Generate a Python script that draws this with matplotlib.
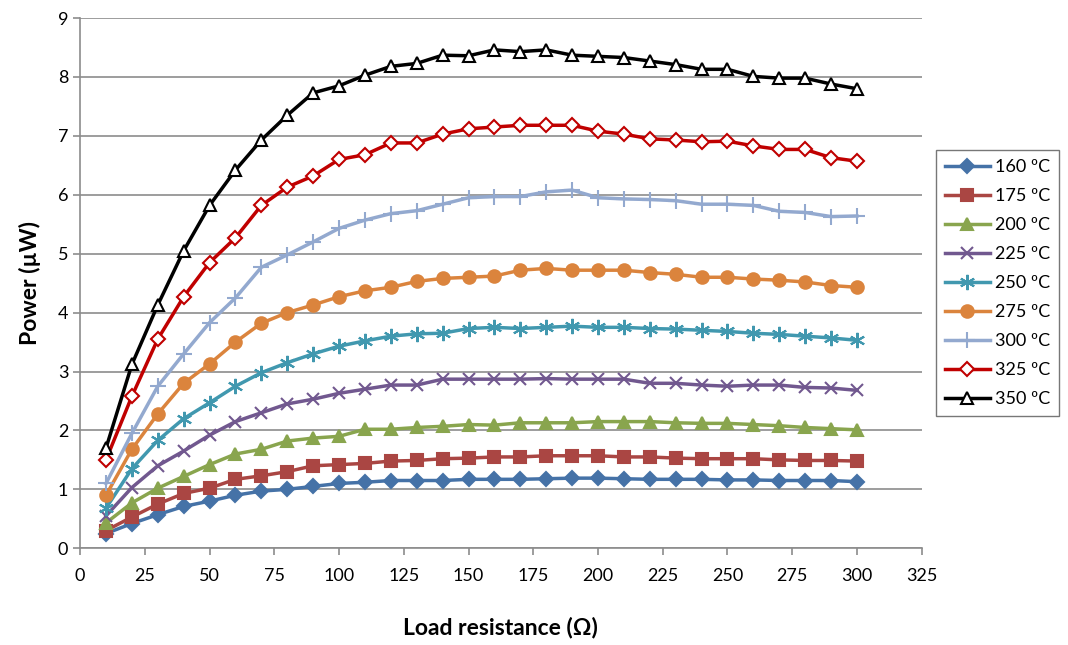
import numpy as np
import matplotlib.pyplot as plt

plt.rcParams['font.family'] = ['Lato', 'DejaVu Sans']

resistance = np.arange(10, 301, 10)
labels = ['160 ºC', '175 ºC', '200 ºC', '225 ºC', '250 ºC', '275 ºC', '300 ºC', '325 ºC', '350 ºC']

p160 = [0.25, 0.42, 0.57, 0.71, 0.80, 0.90, 0.97, 1.00, 1.05, 1.10, 1.12, 1.15, 1.15, 1.15, 1.17,
        1.17, 1.17, 1.18, 1.19, 1.19, 1.18, 1.17, 1.17, 1.17, 1.16, 1.16, 1.15, 1.15, 1.15, 1.13]
p175 = [0.30, 0.53, 0.75, 0.93, 1.02, 1.17, 1.23, 1.30, 1.40, 1.42, 1.44, 1.48, 1.49, 1.52, 1.53,
        1.55, 1.55, 1.57, 1.57, 1.57, 1.55, 1.55, 1.53, 1.52, 1.52, 1.52, 1.50, 1.49, 1.49, 1.48]
p200 = [0.43, 0.77, 1.02, 1.22, 1.42, 1.60, 1.68, 1.82, 1.87, 1.90, 2.02, 2.02, 2.05, 2.07, 2.10,
        2.09, 2.13, 2.13, 2.13, 2.15, 2.15, 2.15, 2.13, 2.12, 2.12, 2.10, 2.08, 2.05, 2.03, 2.01]
p225 = [0.55, 1.03, 1.40, 1.65, 1.92, 2.15, 2.30, 2.45, 2.53, 2.63, 2.70, 2.77, 2.77, 2.87, 2.87,
        2.87, 2.87, 2.88, 2.87, 2.87, 2.87, 2.80, 2.80, 2.77, 2.75, 2.77, 2.77, 2.73, 2.72, 2.68]
p250 = [0.68, 1.35, 1.83, 2.20, 2.47, 2.75, 2.98, 3.15, 3.30, 3.43, 3.52, 3.60, 3.64, 3.65, 3.73,
        3.75, 3.73, 3.75, 3.77, 3.75, 3.75, 3.73, 3.72, 3.70, 3.68, 3.65, 3.63, 3.60, 3.57, 3.53]
p275 = [0.90, 1.68, 2.28, 2.80, 3.13, 3.50, 3.82, 4.00, 4.13, 4.27, 4.37, 4.43, 4.53, 4.58, 4.60,
        4.62, 4.72, 4.75, 4.72, 4.72, 4.72, 4.68, 4.65, 4.60, 4.60, 4.57, 4.55, 4.52, 4.46, 4.43]
p300 = [1.10, 1.95, 2.75, 3.30, 3.83, 4.25, 4.77, 4.98, 5.20, 5.43, 5.57, 5.68, 5.73, 5.84, 5.95,
        5.97, 5.97, 6.05, 6.08, 5.95, 5.93, 5.92, 5.90, 5.84, 5.84, 5.82, 5.72, 5.70, 5.63, 5.64]
p325 = [1.50, 2.58, 3.55, 4.27, 4.85, 5.27, 5.82, 6.13, 6.32, 6.60, 6.68, 6.88, 6.88, 7.03, 7.12,
        7.15, 7.18, 7.18, 7.18, 7.08, 7.03, 6.95, 6.93, 6.90, 6.91, 6.83, 6.77, 6.77, 6.63, 6.57]
p350 = [1.70, 3.12, 4.13, 5.05, 5.82, 6.42, 6.93, 7.35, 7.73, 7.85, 8.03, 8.18, 8.23, 8.37, 8.36,
        8.46, 8.43, 8.46, 8.37, 8.35, 8.33, 8.27, 8.21, 8.13, 8.13, 8.01, 7.98, 7.98, 7.88, 7.80]

series = [p160, p175, p200, p225, p250, p275, p300, p325, p350]
colors = ['#4572A7', '#AA4643', '#89A54E', '#71588F', '#4198AF', '#DB843D', '#93A9CF', '#C00000', '#000000']
# marker, size, facecolor
styles = [('D', 7, None), ('s', 8, None), ('^', 8, None), ('x', 9, None), ((6, 2, 0), 11, None),
          ('o', 9, None), ('+', 11, None), ('D', 7, 'white'), ('^', 9, 'white')]

fig = plt.figure(figsize=(10.68, 6.45), dpi=100)
ax = fig.add_axes([0.075, 0.150, 0.788, 0.822])

for y, c, (m, ms, fc), lab in zip(series, colors, styles, labels):
    ax.plot(resistance, y, color=c, lw=2.5, marker=m, markersize=ms,
            markerfacecolor=fc if fc else c, markeredgecolor=c, markeredgewidth=1.5, label=lab)

ax.set_xlim(0, 325)
ax.set_ylim(0, 9)
ax.set_xticks(np.arange(0, 326, 25))
ax.set_yticks(np.arange(0, 10, 1))
ax.yaxis.grid(True, color='#8c8c8c', lw=1.2)
ax.set_axisbelow(True)
for s in ['top', 'right']:
    ax.spines[s].set_visible(False)
for s in ['left', 'bottom']:
    ax.spines[s].set_color('#8c8c8c')
    ax.spines[s].set_linewidth(1.2)
ax.tick_params(colors='#8c8c8c', labelcolor='black', labelsize=13, length=5, width=1.2)
ax.tick_params(axis='x', pad=9)

ax.set_xlabel('Load resistance (Ω)', fontsize=16.5, fontweight='bold', labelpad=24)
ax.set_ylabel('Power (µW)', fontsize=16.5, fontweight='bold', labelpad=12)

leg = ax.legend(loc='center left', bbox_to_anchor=(1.01, 0.5), fontsize=13, frameon=True,
                fancybox=False, edgecolor='#555555', handlelength=2.5, labelspacing=0.72,
                borderpad=0.5, borderaxespad=0.3, handletextpad=0.3)

fig.savefig('out.png', dpi=100)
